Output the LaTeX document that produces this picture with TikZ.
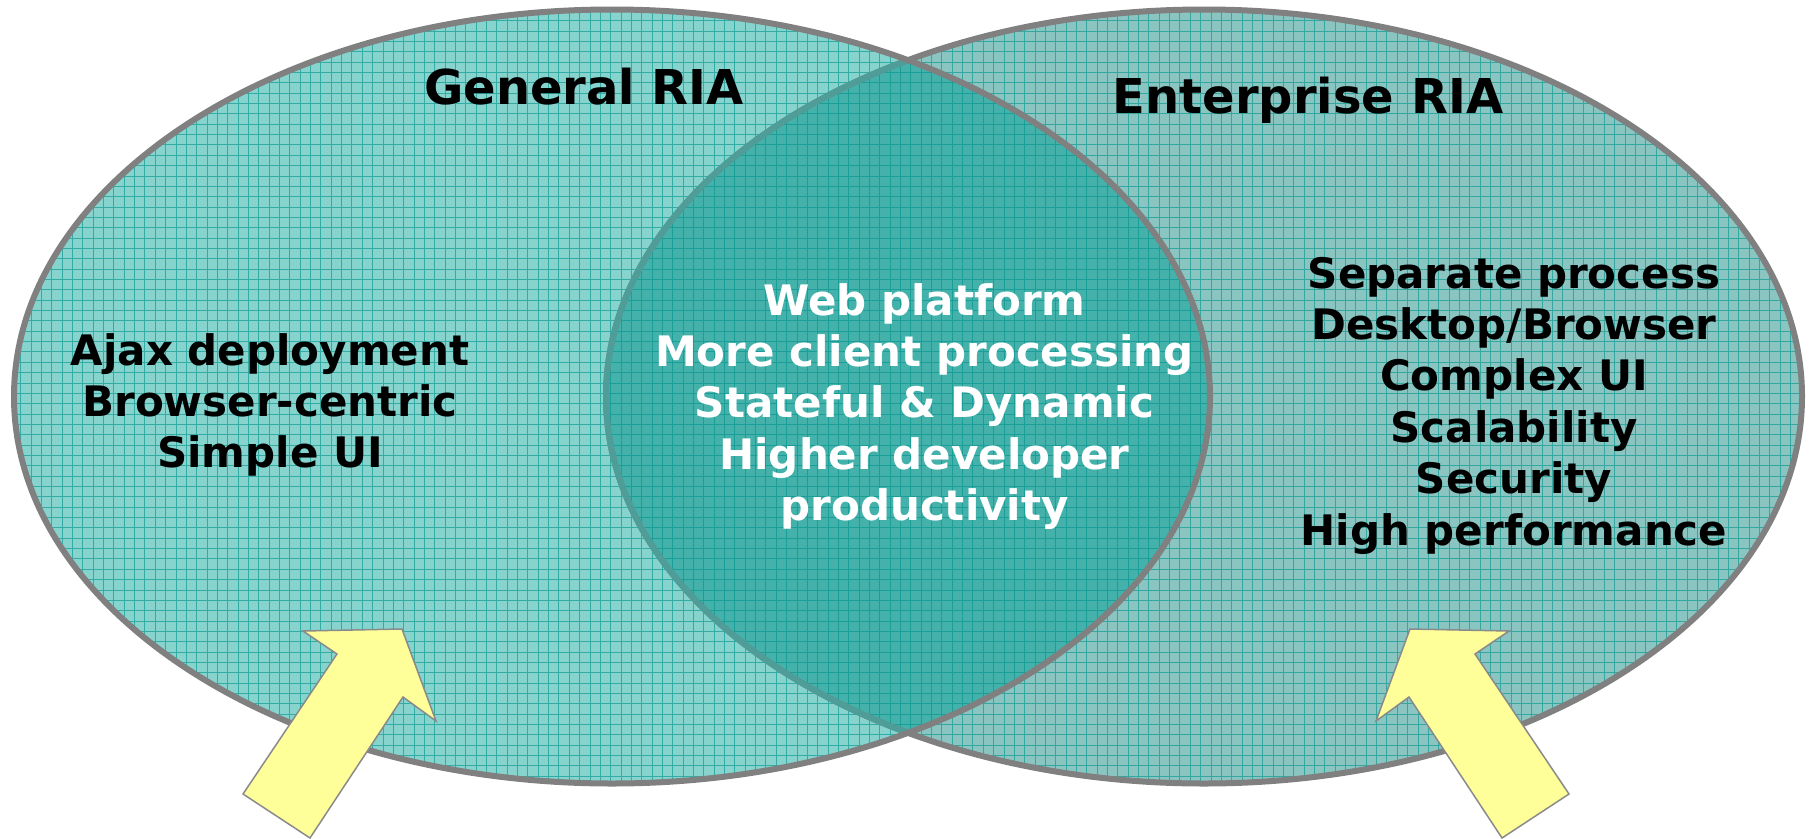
\documentclass[tikz,border=0pt]{standalone}
\usepackage{fontspec}
\setmainfont{DejaVu Sans}
\definecolor{leftfill}{HTML}{86D4CD}
\definecolor{rightfill}{HTML}{8BC5C1}
\definecolor{lensfill}{HTML}{44B1AA}
\definecolor{gridc}{HTML}{00958D}
\definecolor{rimgrey}{HTML}{808080}
\definecolor{lensrim}{HTML}{4F9D98}
\definecolor{arrowyellow}{HTML}{FFFF99}
\definecolor{arrowrim}{HTML}{8A8A8A}
\begin{document}
\begin{tikzpicture}[x=1pt,y=-1pt,
  rim/.style={draw=rimgrey,line width=6pt},
  gridline/.style={draw=gridc,draw opacity=0.62,line width=0.9pt},
  blockarrow/.style={fill=arrowyellow,draw=arrowrim,line width=1.5pt,line join=miter},
  blk/.style={anchor=base,inner sep=0pt,font=\bfseries\fontsize{42}{50}\selectfont,text=black},
  wht/.style={blk,text=white},
  ttl/.style={anchor=base,inner sep=0pt,font=\bfseries\fontsize{48}{56}\selectfont,text=black}]
\useasboundingbox (0,0) rectangle (1812,838);
% fills
\fill[rightfill] (1204,396.5) ellipse [x radius=598pt, y radius=387pt];
\fill[leftfill] (612,396.5) ellipse [x radius=598pt, y radius=387pt];
\begin{scope}
  \clip (612,396.5) ellipse [x radius=598pt, y radius=387pt];
  \fill[lensfill] (1204,396.5) ellipse [x radius=598pt, y radius=387pt];
\end{scope}
% grid texture
\begin{scope}
  \clip (612,396.5) ellipse [x radius=598pt, y radius=387pt]
        (1204,396.5) ellipse [x radius=598pt, y radius=387pt];
  \draw[gridline, step=10.35pt] (0,0) grid (1812,838);
\end{scope}
% outlines
\draw[rim] (1204,396.5) ellipse [x radius=598pt, y radius=387pt];
\begin{scope}
  \clip (612,396.5) ellipse [x radius=598pt, y radius=387pt];
  \draw[rim, draw=lensrim] (1204,396.5) ellipse [x radius=598pt, y radius=387pt];
\end{scope}
\draw[rim] (612,396.5) ellipse [x radius=598pt, y radius=387pt];
% arrows
\draw[blockarrow] (402,629) -- (436,721) -- (403,697) -- (310,838) -- (243,794) -- (337,654) -- (303,631) -- cycle;
\draw[blockarrow] (1410,629) -- (1376,721) -- (1409,697) -- (1502,838) -- (1569,794) -- (1475,654) -- (1509,631) -- cycle;
% titles
\node[ttl] (gtitle) at (584,104) {General RIA};
\node[ttl] (etitle) at (1308,113) {Enterprise RIA};
% left list
\node[blk] (g1) at (270,365) {Ajax deployment};
\node[blk] (g2) at (270,416.4) {Browser-centric};
\node[blk] (g3) at (270,467.8) {Simple UI};
% centre list
\node[wht] (c1) at (924.5,315) {Web platform};
\node[wht] (c2) at (924.5,366.4) {More client processing};
\node[wht] (c3) at (924.5,417.8) {Stateful \& Dynamic};
\node[wht] (c4) at (924.5,469.2) {Higher developer};
\node[wht] (c5) at (924.5,520.6) {productivity};
% right list
\node[blk] (e1) at (1514,288) {Separate process};
\node[blk] (e2) at (1514,339.4) {Desktop/Browser};
\node[blk] (e3) at (1514,390.8) {Complex UI};
\node[blk] (e4) at (1514,442.2) {Scalability};
\node[blk] (e5) at (1514,493.6) {Security};
\node[blk] (e6) at (1514,545) {High performance};
\end{tikzpicture}
\end{document}
